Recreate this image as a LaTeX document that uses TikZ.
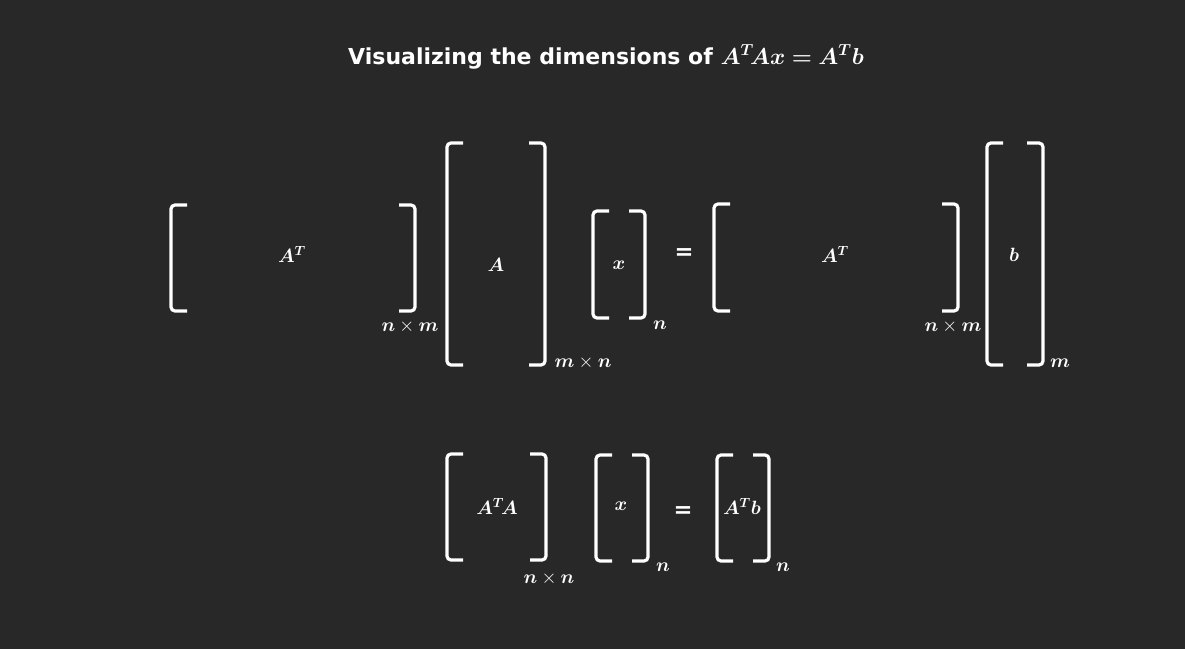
\documentclass[tikz,border=0pt]{standalone}
\usepackage{fontspec}
\setmainfont{DejaVu Sans}
\usepackage{bm}
\definecolor{bgdark}{HTML}{282828}
\tikzset{
  bracket/.style={draw=white, line width=2.4pt, rounded corners=3pt},
  entry/.style={text=white, inner sep=0pt, font=\fontsize{14}{16}\selectfont},
  dimlabel/.style={text=white, inner sep=0pt, font=\fontsize{14}{16}\selectfont},
  equalsign/.style={text=white, inner sep=0pt, font=\fontsize{17}{19}\selectfont\bfseries},
}
\begin{document}
\begin{tikzpicture}[x=0.75pt,y=-0.75pt]

\fill[bgdark] (0,0) rectangle (1185,649);
\useasboundingbox (0,0) rectangle (1185,649);

% title
\node[text=white, inner sep=0pt, font=\fontsize{16.5}{19}\selectfont\bfseries]
(title)
at (606,57)
{Visualizing the dimensions of $\bm{A^T\!A x = A^T b}$};

% first row: A^T A x = A^T b
\draw[bracket] (187,205) -- (171,205) -- (171,311) -- (187,311);
\draw[bracket] (399,205) -- (415,205) -- (415,311) -- (399,311);
\node[entry] (AT1) at (292,254) {$\bm{A^T}$};
\node[dimlabel] (AT1dim) at (410,327) {$\bm{n}\times\bm{m}$};

\draw[bracket] (463,143) -- (447,143) -- (447,365) -- (463,365);
\draw[bracket] (529,143) -- (545,143) -- (545,365) -- (529,365);
\node[entry] (A1) at (496,265) {$\bm{A}$};
\node[dimlabel] (A1dim) at (583,363) {$\bm{m}\times\bm{n}$};

\draw[bracket] (609,211) -- (593,211) -- (593,318) -- (609,318);
\draw[bracket] (629,211) -- (645,211) -- (645,318) -- (629,318);
\node[entry] (x1) at (619,265) {$\bm{x}$};
\node[dimlabel] (x1dim) at (660,325) {$\bm{n}$};

\node[equalsign] (eq1) at (684,254) {=};

\draw[bracket] (730,204) -- (714,204) -- (714,311) -- (730,311);
\draw[bracket] (942,204) -- (958,204) -- (958,311) -- (942,311);
\node[entry] (AT2) at (835,254) {$\bm{A^T}$};
\node[dimlabel] (AT2dim) at (953,327) {$\bm{n}\times\bm{m}$};

\draw[bracket] (1003,143) -- (987,143) -- (987,365) -- (1003,365);
\draw[bracket] (1027,143) -- (1043,143) -- (1043,365) -- (1027,365);
\node[entry] (b1) at (1014,255) {$\bm{b}$};
\node[dimlabel] (b1dim) at (1060,363) {$\bm{m}$};

% second row: (A^T A) x = A^T b
\draw[bracket] (463,454) -- (447,454) -- (447,560) -- (463,560);
\draw[bracket] (530,454) -- (546,454) -- (546,560) -- (530,560);
\node[entry] (ATA) at (497,506) {$\bm{A^T\!A}$};
\node[dimlabel] (ATAdim) at (549,579) {$\bm{n}\times\bm{n}$};

\draw[bracket] (612,455) -- (596,455) -- (596,561) -- (612,561);
\draw[bracket] (632,455) -- (648,455) -- (648,561) -- (632,561);
\node[entry] (x2) at (621,506) {$\bm{x}$};
\node[dimlabel] (x2dim) at (663,567) {$\bm{n}$};

\node[equalsign] (eq2) at (683,512) {=};

\draw[bracket] (733,455) -- (717,455) -- (717,561) -- (733,561);
\draw[bracket] (753,455) -- (769,455) -- (769,561) -- (753,561);
\node[entry] (ATb) at (742,506) {$\bm{A^T b}$};
\node[dimlabel] (ATbdim) at (783,567) {$\bm{n}$};

\end{tikzpicture}
\end{document}
